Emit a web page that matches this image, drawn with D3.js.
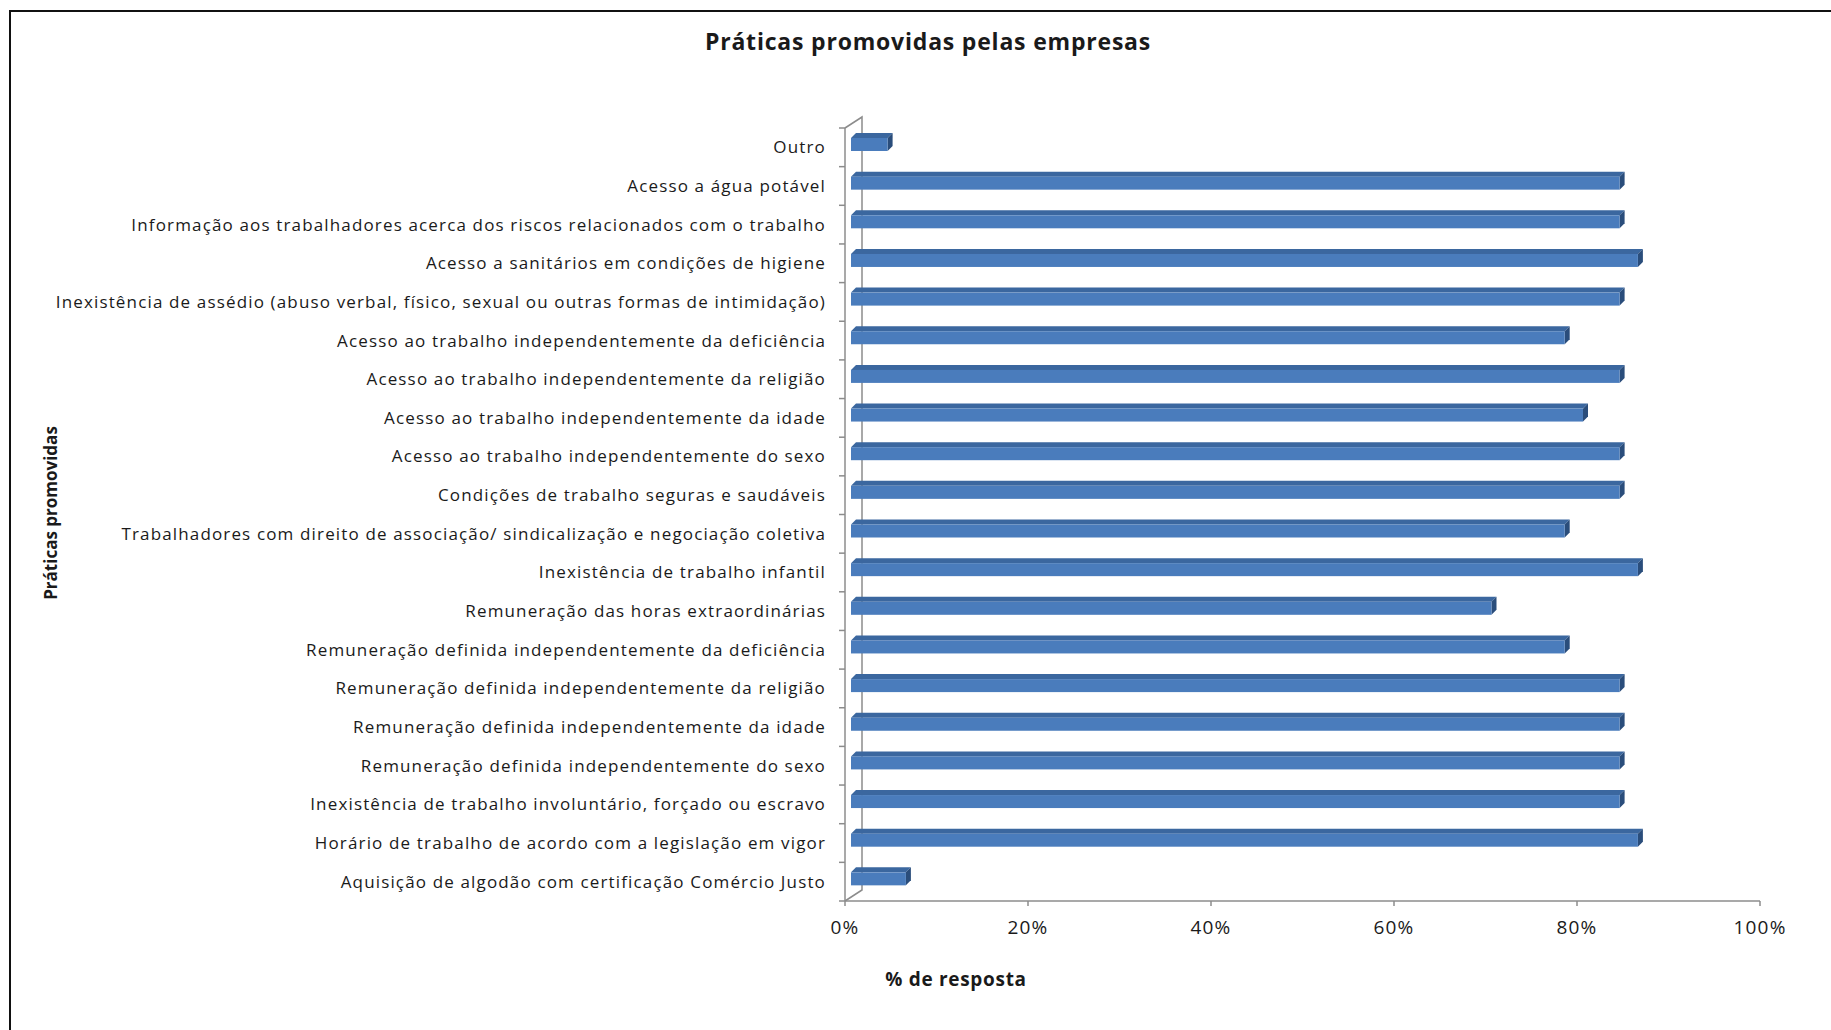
<!DOCTYPE html>
<html>
  <head>
    <meta charset="utf-8">
    <style>
      body { margin: 0; background: #fff; }
      text { font-family: "Open Sans", sans-serif; fill: #1a1a1a; }
      .axis-line { stroke: #8c8c8c; stroke-width: 1.5px; fill: none; }
    </style>
  </head>
  <body>
    <script src="https://d3js.org/d3.v7.min.js"></script>
    <script>
    var width = 1831, height = 1030;

    // categories top to bottom, values in fraction of responses
    var categories = [
      "Outro",
      "Acesso a água potável",
      "Informação aos trabalhadores acerca dos riscos relacionados com o trabalho",
      "Acesso a sanitários em condições de higiene",
      "Inexistência de assédio (abuso verbal, físico, sexual ou outras formas de intimidação)",
      "Acesso ao trabalho independentemente da deficiência",
      "Acesso ao trabalho independentemente da religião",
      "Acesso ao trabalho independentemente da idade",
      "Acesso ao trabalho independentemente do sexo",
      "Condições de trabalho seguras e saudáveis",
      "Trabalhadores com direito de associação/ sindicalização e negociação coletiva",
      "Inexistência de trabalho infantil",
      "Remuneração das horas extraordinárias",
      "Remuneração definida independentemente da deficiência",
      "Remuneração definida independentemente da religião",
      "Remuneração definida independentemente da idade",
      "Remuneração definida independentemente do sexo",
      "Inexistência de trabalho involuntário, forçado ou escravo",
      "Horário de trabalho de acordo com a legislação em vigor",
      "Aquisição de algodão com certificação Comércio Justo"
    ];
    var values = [0.04, 0.84, 0.84, 0.86, 0.84, 0.78, 0.84, 0.80, 0.84, 0.84,
                  0.78, 0.86, 0.70, 0.78, 0.84, 0.84, 0.84, 0.84, 0.86, 0.06];
    var xTicks = [0, 0.2, 0.4, 0.6, 0.8, 1];

    var svg = d3.select("body")
        .append("svg")
        .attr("width", width)
        .attr("height", height);

    // frame (only top and left edges show in the picture)
    svg.append("path")
        .attr("d", "M10,1030 V11 H1831")
        .attr("stroke", "#111")
        .attr("stroke-width", 2)
        .attr("fill", "none");

    var x = d3.scaleLinear().domain([0, 1]).range([845, 1760]);
    var y = d3.scaleBand().domain(categories).range([128, 901]).padding(0);

    // 3d wall depth
    var wx = 17, wy = -11;

    var walls = svg.append("g");
    walls.append("path")
        .attr("class", "axis-line")
        .attr("d", "M" + x(0) + "," + y.range()[0] + " l" + wx + "," + wy +
                   " V" + (y.range()[1] + wy) + " l" + (-wx) + "," + (-wy));

    // category axis
    var yAxis = svg.append("g");
    yAxis.append("line")
        .attr("class", "axis-line")
        .attr("x1", x(0)).attr("x2", x(0))
        .attr("y1", y.range()[0]).attr("y2", y.range()[1]);
    yAxis.selectAll(".tk")
        .data(categories.concat([null]))
        .enter().append("line")
        .attr("class", "axis-line")
        .attr("x1", x(0) - 6).attr("x2", x(0))
        .attr("y1", function(d, i) { return y.range()[0] + i * y.step(); })
        .attr("y2", function(d, i) { return y.range()[0] + i * y.step(); });
    yAxis.selectAll(".lbl")
        .data(categories)
        .enter().append("text")
        .attr("x", 826)
        .attr("y", function(d) { return y(d) + y.bandwidth() / 2; })
        .attr("dy", "0.35em")
        .attr("text-anchor", "end")
        .style("font-size", "17px")
        .style("letter-spacing", "1.15px")
        .text(function(d) { return d; });

    // value axis
    var xAxis = svg.append("g");
    xAxis.append("line")
        .attr("class", "axis-line")
        .attr("x1", x(0)).attr("x2", x(1))
        .attr("y1", y.range()[1]).attr("y2", y.range()[1]);
    xAxis.selectAll(".tk")
        .data(xTicks)
        .enter().append("line")
        .attr("class", "axis-line")
        .attr("x1", function(d) { return x(d); })
        .attr("x2", function(d) { return x(d); })
        .attr("y1", y.range()[1]).attr("y2", y.range()[1] + 5);
    xAxis.selectAll(".lbl")
        .data(xTicks)
        .enter().append("text")
        .attr("x", function(d) { return x(d); })
        .attr("y", 934)
        .attr("text-anchor", "middle")
        .style("font-size", "19px")
        .style("letter-spacing", "1.2px")
        .text(d3.format(".0%"));

    // bars: front face, top face, side face
    var bx = 6, depth = 5, top0 = 10, faceH = 13;

    var bars = svg.append("g")
      .selectAll("g")
      .data(categories)
      .enter().append("g");

    bars.append("path")
        .attr("fill", "#3b679f")
        .attr("d", function(d, i) {
          var x0 = x(0) + bx, x1 = x(values[i]) + bx, t = y(d) + top0;
          return "M" + x0 + "," + t + " l" + depth + "," + (-depth) +
                 " H" + (x1 + depth) + " l" + (-depth) + "," + depth + "Z";
        });

    bars.append("path")
        .attr("fill", "#2a4d7b")
        .attr("d", function(d, i) {
          var x1 = x(values[i]) + bx, t = y(d) + top0;
          return "M" + x1 + "," + t + " l" + depth + "," + (-depth) +
                 " v" + faceH + " l" + (-depth) + "," + depth + "Z";
        });

    bars.append("rect")
        .attr("x", x(0) + bx)
        .attr("y", function(d) { return y(d) + top0; })
        .attr("width", function(d, i) { return x(values[i]) - x(0); })
        .attr("height", faceH)
        .attr("fill", "#4a7cbc");

    // titles
    svg.append("text")
        .attr("x", 928)
        .attr("y", 50)
        .attr("text-anchor", "middle")
        .style("font-size", "23px")
        .style("letter-spacing", "0.8px")
        .style("font-weight", "bold")
        .text("Práticas promovidas pelas empresas");

    svg.append("text")
        .attr("transform", "translate(57,513) rotate(-90)")
        .attr("text-anchor", "middle")
        .style("font-size", "17px")
        .style("font-weight", "bold")
        .text("Práticas promovidas");

    svg.append("text")
        .attr("x", 956)
        .attr("y", 986)
        .attr("text-anchor", "middle")
        .style("font-size", "19px")
        .style("letter-spacing", "0.7px")
        .style("font-weight", "bold")
        .text("% de resposta");
    </script>
  </body>
</html>
